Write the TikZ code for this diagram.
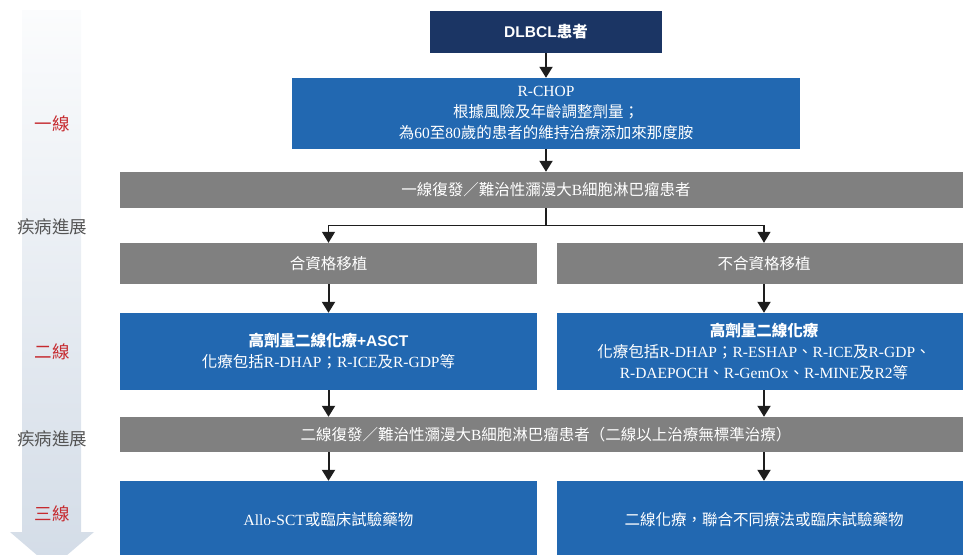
\documentclass[tikz,border=0pt]{standalone}
\usepackage{fontspec}
\setmainfont{Liberation Serif}
\setsansfont{Liberation Sans}
\newfontfamily\cj{Noto Sans CJK TC}
\usetikzlibrary{arrows.meta}
\definecolor{navy}{HTML}{1B3564}
\definecolor{mblue}{HTML}{2268B1}
\definecolor{mgray}{HTML}{808080}
\definecolor{lred}{HTML}{C62A2F}
\definecolor{lgray}{HTML}{555555}
\definecolor{atop}{HTML}{FBFCFD}
\definecolor{abot}{HTML}{D3DCE7}
\definecolor{ink}{HTML}{1E1E1E}
\newcommand\C[1]{{\cj #1}}
\begin{document}
\begin{tikzpicture}[x=1pt,y=-1pt,
  box/.style={inner sep=0pt, text=white, align=center, font=\fontsize{15.5}{21}\selectfont},
  lab/.style={inner sep=0pt, font=\cj\fontsize{17.5}{20}\selectfont},
  conn/.style={draw=ink, line width=2pt},
  arr/.style={conn, -{Triangle[width=13pt,length=11pt]}}]
\useasboundingbox (0,0) rectangle (963,554);
\clip (0,0) rectangle (963,554);
% side arrow
\shade[top color=atop, bottom color=abot] (22,10) -- (81,10) -- (81,532) -- (94,532) -- (52,568) -- (10,532) -- (22,532) -- cycle;
\node[lab, text=lred] (l1) at (52,124) {一線};
\node[lab, text=lgray] (p1) at (52,227) {疾病進展};
\node[lab, text=lred] (l2) at (52,352) {二線};
\node[lab, text=lgray] (p2) at (52,439) {疾病進展};
\node[lab, text=lred] (l3) at (52,514) {三線};
% boxes
\node[box, fill=navy, minimum width=232pt, minimum height=42pt, font=\bfseries\sffamily\fontsize{15.5}{20}\selectfont] (dl) at (546,32) {DLBCL{\cj\bfseries 患者}};
\node[box, fill=mblue, minimum width=508pt, minimum height=71pt] (rc) at (546,113.5) {R-CHOP\\\C{根據風險及年齡調整劑量；}\\\C{為}60\C{至}80\C{歲的患者的維持治療添加來那度胺}};
\node[box, fill=mgray, minimum width=852pt, minimum height=36pt] (g1) at (546,190) {\C{一線復發／難治性瀰漫大}B\C{細胞淋巴瘤患者}};
\node[box, fill=mgray, minimum width=417pt, minimum height=41pt] (e1) at (328.5,263.5) {\C{合資格移植}};
\node[box, fill=mgray, minimum width=414pt, minimum height=41pt] (e2) at (764,263.5) {\C{不合資格移植}};
\node[box, fill=mblue, minimum width=417pt, minimum height=77pt] (b1) at (328.5,351.5) {{\cj\bfseries 高劑量二線化療}{\sffamily\bfseries +ASCT}\\\C{化療包括}R-DHAP\C{；}R-ICE\C{及}R-GDP\C{等}};
\node[box, fill=mblue, minimum width=414pt, minimum height=77pt] (b2) at (764,351.5) {{\cj\bfseries 高劑量二線化療}\\\C{化療包括}R-DHAP\C{；}R-ESHAP\C{、}R-ICE\C{及}R-GDP\C{、}\\R-DAEPOCH\C{、}R-GemOx\C{、}R-MINE\C{及}R2\C{等}};
\node[box, fill=mgray, minimum width=852pt, minimum height=35pt] (g2) at (546,434.5) {\C{二線復發／難治性瀰漫大}B\C{細胞淋巴瘤患者（二線以上治療無標準治療）}};
\node[box, fill=mblue, minimum width=417pt, minimum height=78pt] (c1) at (328.5,520) {Allo-SCT\C{或臨床試驗藥物}};
\node[box, fill=mblue, minimum width=414pt, minimum height=78pt] (c2) at (764,520) {\C{二線化療，聯合不同療法或臨床試驗藥物}};
% connectors
\draw[arr] (dl) -- (rc);
\draw[arr] (rc) -- (g1);
\draw[conn] (g1.south) -- ++(0,17) coordinate (sp);
\draw[arr, line width=1.2pt] (sp) -| (e1.north);
\draw[arr, line width=1.2pt] (sp) -| (e2.north);
\draw[arr] (e1) -- (b1);
\draw[arr] (e2) -- (b2);
\draw[arr] (b1) -- (b1 |- g2.north);
\draw[arr] (b2) -- (b2 |- g2.north);
\draw[arr] (c1 |- g2.south) -- (c1);
\draw[arr] (c2 |- g2.south) -- (c2);
\end{tikzpicture}
\end{document}
